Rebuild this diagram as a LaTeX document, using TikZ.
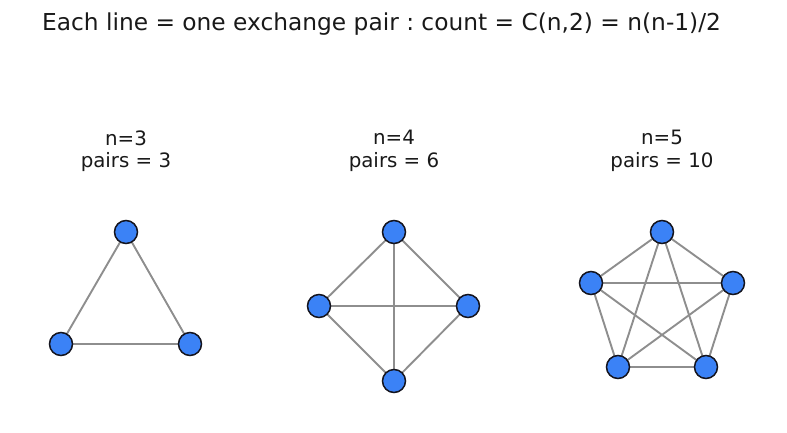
\documentclass[tikz,border=0pt]{standalone}
\usepackage{fontspec}
\setmainfont{DejaVu Sans}
\frenchspacing
\definecolor{nodeblue}{HTML}{3B82F6}
\definecolor{edgegray}{RGB}{142,142,142}
\definecolor{rimblack}{RGB}{20,20,30}
\begin{document}
\begin{tikzpicture}[x=1pt,y=-1pt,
    agent/.style={circle,draw=rimblack,line width=1.5pt,fill=nodeblue,
      minimum size=23pt,inner sep=0pt},
    pairline/.style={draw=edgegray,line width=1.9pt},
    caption/.style={align=center,font=\fontsize{19.8}{22.5}\selectfont,text=black!90}]
  \useasboundingbox (0,0) rectangle (787,432);

  \node[font=\fontsize{23.3}{27}\selectfont,text=black!90] (title) at (381.5,24)
    {Each line = one exchange pair : count = C(n,2) = n(n-1)/2};

  % n=3
  \node[caption] (capA) at (126,151) {n=3\\pairs = 3};
  \coordinate (a1) at (126,232);
  \coordinate (a2) at (61,344);
  \coordinate (a3) at (190,344);
  \foreach \i/\j in {1/2,1/3,2/3}
    \draw[pairline] (a\i) -- (a\j);
  \foreach \i in {1,2,3}
    \node[agent] (na\i) at (a\i) {};

  % n=4
  \node[caption] (capB) at (394,151) {n=4\\pairs = 6};
  \coordinate (b1) at (394,232);
  \coordinate (b2) at (319,306);
  \coordinate (b3) at (468,306);
  \coordinate (b4) at (394,381);
  \foreach \i/\j in {1/2,1/3,1/4,2/3,2/4,3/4}
    \draw[pairline] (b\i) -- (b\j);
  \foreach \i in {1,...,4}
    \node[agent] (nb\i) at (b\i) {};

  % n=5
  \node[caption] (capC) at (662,151) {n=5\\pairs = 10};
  \coordinate (c1) at (662,232);
  \coordinate (c2) at (591,283);
  \coordinate (c3) at (733,283);
  \coordinate (c4) at (618,367);
  \coordinate (c5) at (706,367);
  \foreach \i/\j in {1/2,1/3,1/4,1/5,2/3,2/4,2/5,3/4,3/5,4/5}
    \draw[pairline] (c\i) -- (c\j);
  \foreach \i in {1,...,5}
    \node[agent] (nc\i) at (c\i) {};

\end{tikzpicture}
\end{document}
